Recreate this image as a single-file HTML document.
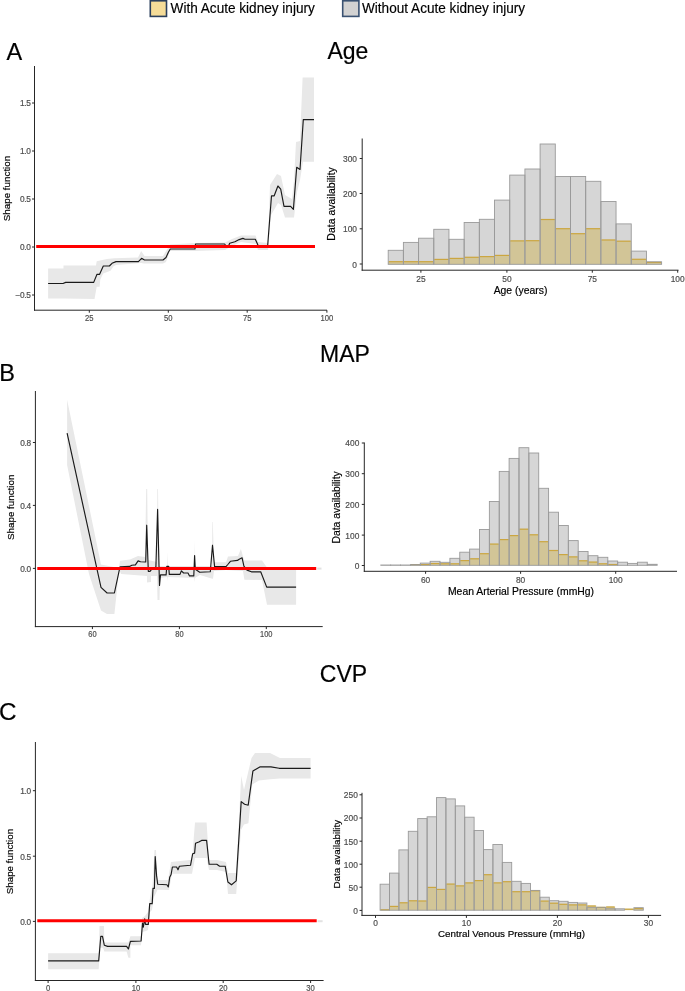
<!DOCTYPE html>
<html><head><meta charset="utf-8"><style>
html,body{margin:0;padding:0;background:#fff;}
body{width:685px;height:991px;overflow:hidden;}
svg{display:block;font-family:"Liberation Sans", sans-serif;filter:blur(0.35px);}
</style></head><body>
<svg width="685" height="991" viewBox="0 0 685 991">
<rect width="685" height="991" fill="#fff"/>
<rect x="150.3" y="0.8" width="16.2" height="15.6" fill="#f5dc98" stroke="#2b3f5c" stroke-width="1.6"/>
<text x="0" y="0" font-size="13.6" fill="#000" stroke="#000" stroke-width="0.15" transform="translate(170.6,12.7) scale(1,1.04)">With Acute kidney injury</text>
<rect x="342.7" y="0.8" width="16.2" height="15.6" fill="#d2d2d2" stroke="#3a5272" stroke-width="1.6"/>
<text x="0" y="0" font-size="13.6" fill="#000" stroke="#000" stroke-width="0.15" transform="translate(362.0,12.7) scale(1,1.04)">Without Acute kidney injury</text>
<text x="6.5" y="59.7" font-size="23.5" text-anchor="start" fill="#000" stroke="#000" stroke-width="0.18" >A</text>
<text x="-0.8" y="381.1" font-size="23.5" text-anchor="start" fill="#000" stroke="#000" stroke-width="0.18" >B</text>
<text x="-0.9" y="720.3" font-size="24.2" text-anchor="start" fill="#000" stroke="#000" stroke-width="0.18" >C</text>
<text x="327.4" y="59.4" font-size="23" text-anchor="start" fill="#000" stroke="#000" stroke-width="0.18" >Age</text>
<text x="320.0" y="362.2" font-size="23" text-anchor="start" fill="#000" stroke="#000" stroke-width="0.18" >MAP</text>
<text x="319.8" y="682.1" font-size="23" text-anchor="start" fill="#000" stroke="#000" stroke-width="0.18" >CVP</text>
<polygon points="48.1,268.6 63.5,268.6 63.5,265.5 96.0,265.5 96.7,261.2 106.9,259.0 114.2,258.2 138.0,257.5 141.2,251.0 144.5,256.0 163.0,256.0 168.0,248.0 170.0,244.5 195.0,243.0 225.0,242.5 232.0,239.0 241.0,235.5 255.5,235.5 258.0,242.0 268.0,243.0 270.0,185.0 277.0,174.0 281.0,176.0 285.0,195.0 292.0,199.0 294.0,180.0 296.0,142.0 300.0,141.0 302.6,77.5 314.0,77.5 314.0,161.8 303.0,161.8 300.0,180.0 297.0,192.0 294.0,217.6 285.0,217.6 281.0,205.0 278.0,203.0 274.0,210.0 271.0,215.0 268.0,250.0 258.0,250.0 256.0,244.0 241.0,242.0 232.0,246.0 225.0,250.0 195.0,251.0 180.0,251.0 170.0,251.0 166.0,262.0 163.0,263.5 144.0,263.5 141.0,263.0 116.0,265.0 113.5,266.3 110.5,270.7 103.2,273.6 100.3,279.4 99.6,286.7 96.7,286.7 94.5,299.0 63.5,298.4 48.1,298.4" fill="#e8e8e8"/>
<polyline points="48.1,283.5 63.0,283.5 65.7,282.4 93.7,282.4 97.0,274.3 99.6,274.3 103.3,266.0 109.4,266.0 112.0,263.3 116.0,261.6 138.4,261.6 141.6,258.3 144.5,260.0 163.0,260.0 166.0,257.5 168.5,252.0 170.3,249.0 195.0,249.0 195.5,244.0 224.6,244.0 226.5,246.5 228.3,246.5 229.7,243.2 234.9,241.8 239.2,239.6 242.9,238.4 245.0,239.2 255.3,239.2 257.5,244.0 258.4,246.5 267.6,246.5 271.5,195.8 274.2,195.8 277.9,186.0 280.7,189.2 284.0,206.3 290.6,206.3 293.4,209.3 296.7,167.3 300.0,169.5 303.3,119.6 314.0,119.6" fill="none" stroke="#1a1a1a" stroke-width="1.15" stroke-linejoin="round"/>
<line x1="36.2" y1="246.5" x2="315" y2="246.5" stroke="#ff0000" stroke-width="3"/>
<line x1="34.5" y1="66" x2="34.5" y2="310.7" stroke="#262626" stroke-width="1"/>
<line x1="34.0" y1="310.2" x2="327" y2="310.2" stroke="#262626" stroke-width="1"/>
<line x1="32.0" y1="103" x2="34.5" y2="103" stroke="#262626" stroke-width="1"/>
<text x="30.8" y="106.41" font-size="8.3" text-anchor="end" fill="#4d4d4d" stroke="#4d4d4d" stroke-width="0.18" textLength="10.73" lengthAdjust="spacing">1.5</text>
<line x1="32.0" y1="151" x2="34.5" y2="151" stroke="#262626" stroke-width="1"/>
<text x="30.8" y="154.41" font-size="8.3" text-anchor="end" fill="#4d4d4d" stroke="#4d4d4d" stroke-width="0.18" textLength="10.73" lengthAdjust="spacing">1.0</text>
<line x1="32.0" y1="199" x2="34.5" y2="199" stroke="#262626" stroke-width="1"/>
<text x="30.8" y="202.41" font-size="8.3" text-anchor="end" fill="#4d4d4d" stroke="#4d4d4d" stroke-width="0.18" textLength="10.73" lengthAdjust="spacing">0.5</text>
<line x1="32.0" y1="247" x2="34.5" y2="247" stroke="#262626" stroke-width="1"/>
<text x="30.8" y="250.41" font-size="8.3" text-anchor="end" fill="#4d4d4d" stroke="#4d4d4d" stroke-width="0.18" textLength="10.73" lengthAdjust="spacing">0.0</text>
<line x1="32.0" y1="295" x2="34.5" y2="295" stroke="#262626" stroke-width="1"/>
<text x="30.8" y="298.4" font-size="8.3" text-anchor="end" fill="#4d4d4d" stroke="#4d4d4d" stroke-width="0.18" textLength="15.24" lengthAdjust="spacing">−0.5</text>
<line x1="89.3" y1="310.2" x2="89.3" y2="312.7" stroke="#262626" stroke-width="1"/>
<text x="89.3" y="321" font-size="8.3" text-anchor="middle" fill="#4d4d4d" stroke="#4d4d4d" stroke-width="0.18" textLength="8.49" lengthAdjust="spacingAndGlyphs">25</text>
<line x1="168.3" y1="310.2" x2="168.3" y2="312.7" stroke="#262626" stroke-width="1"/>
<text x="168.3" y="321" font-size="8.3" text-anchor="middle" fill="#4d4d4d" stroke="#4d4d4d" stroke-width="0.18" textLength="8.49" lengthAdjust="spacingAndGlyphs">50</text>
<line x1="247.2" y1="310.2" x2="247.2" y2="312.7" stroke="#262626" stroke-width="1"/>
<text x="247.2" y="321" font-size="8.3" text-anchor="middle" fill="#4d4d4d" stroke="#4d4d4d" stroke-width="0.18" textLength="8.49" lengthAdjust="spacingAndGlyphs">75</text>
<line x1="326.9" y1="310.2" x2="326.9" y2="312.7" stroke="#262626" stroke-width="1"/>
<text x="326.9" y="321" font-size="8.3" text-anchor="middle" fill="#4d4d4d" stroke="#4d4d4d" stroke-width="0.18" textLength="12.74" lengthAdjust="spacingAndGlyphs">100</text>
<text x="0" y="0" font-size="9.8" text-anchor="middle" fill="#000" stroke="#000" stroke-width="0.18" transform="translate(10.0,188.5) rotate(-90)">Shape function</text>
<rect x="388.20" y="250.30" width="15.19" height="14.00" fill="#d6d6d6" stroke="none"/>
<rect x="403.39" y="242.40" width="15.19" height="21.90" fill="#d6d6d6" stroke="none"/>
<rect x="418.58" y="238.20" width="15.19" height="26.10" fill="#d6d6d6" stroke="none"/>
<rect x="433.77" y="229.30" width="15.19" height="35.00" fill="#d6d6d6" stroke="none"/>
<rect x="448.96" y="239.30" width="15.19" height="25.00" fill="#d6d6d6" stroke="none"/>
<rect x="464.15" y="222.50" width="15.19" height="41.80" fill="#d6d6d6" stroke="none"/>
<rect x="479.34" y="219.30" width="15.19" height="45.00" fill="#d6d6d6" stroke="none"/>
<rect x="494.53" y="200.10" width="15.19" height="64.20" fill="#d6d6d6" stroke="none"/>
<rect x="509.72" y="175.10" width="15.19" height="89.20" fill="#d6d6d6" stroke="none"/>
<rect x="524.91" y="169.00" width="15.19" height="95.30" fill="#d6d6d6" stroke="none"/>
<rect x="540.10" y="144.00" width="15.19" height="120.30" fill="#d6d6d6" stroke="none"/>
<rect x="555.29" y="176.50" width="15.19" height="87.80" fill="#d6d6d6" stroke="none"/>
<rect x="570.48" y="176.50" width="15.19" height="87.80" fill="#d6d6d6" stroke="none"/>
<rect x="585.67" y="181.30" width="15.19" height="83.00" fill="#d6d6d6" stroke="none"/>
<rect x="600.86" y="201.50" width="15.19" height="62.80" fill="#d6d6d6" stroke="none"/>
<rect x="616.05" y="223.90" width="15.19" height="40.40" fill="#d6d6d6" stroke="none"/>
<rect x="631.24" y="251.10" width="15.19" height="13.20" fill="#d6d6d6" stroke="none"/>
<rect x="646.43" y="261.80" width="15.19" height="2.50" fill="#d6d6d6" stroke="none"/>
<rect x="388.20" y="261.30" width="15.19" height="3.00" fill="#d2c597" stroke="none"/>
<rect x="403.39" y="261.30" width="15.19" height="3.00" fill="#d2c597" stroke="none"/>
<rect x="418.58" y="261.30" width="15.19" height="3.00" fill="#d2c597" stroke="none"/>
<rect x="433.77" y="259.00" width="15.19" height="5.30" fill="#d2c597" stroke="none"/>
<rect x="448.96" y="258.00" width="15.19" height="6.30" fill="#d2c597" stroke="none"/>
<rect x="464.15" y="256.90" width="15.19" height="7.40" fill="#d2c597" stroke="none"/>
<rect x="479.34" y="256.20" width="15.19" height="8.10" fill="#d2c597" stroke="none"/>
<rect x="494.53" y="255.00" width="15.19" height="9.30" fill="#d2c597" stroke="none"/>
<rect x="509.72" y="240.50" width="15.19" height="23.80" fill="#d2c597" stroke="none"/>
<rect x="524.91" y="240.30" width="15.19" height="24.00" fill="#d2c597" stroke="none"/>
<rect x="540.10" y="219.10" width="15.19" height="45.20" fill="#d2c597" stroke="none"/>
<rect x="555.29" y="228.30" width="15.19" height="36.00" fill="#d2c597" stroke="none"/>
<rect x="570.48" y="233.30" width="15.19" height="31.00" fill="#d2c597" stroke="none"/>
<rect x="585.67" y="228.30" width="15.19" height="36.00" fill="#d2c597" stroke="none"/>
<rect x="600.86" y="239.60" width="15.19" height="24.70" fill="#d2c597" stroke="none"/>
<rect x="616.05" y="240.80" width="15.19" height="23.50" fill="#d2c597" stroke="none"/>
<rect x="631.24" y="258.90" width="15.19" height="5.40" fill="#d2c597" stroke="none"/>
<rect x="646.43" y="262.00" width="15.19" height="2.30" fill="#d2c597" stroke="none"/>
<line x1="388.70" y1="261.70" x2="402.89" y2="261.70" stroke="#cba641" stroke-width="1.2"/>
<line x1="403.89" y1="261.70" x2="418.08" y2="261.70" stroke="#cba641" stroke-width="1.2"/>
<line x1="419.08" y1="261.70" x2="433.27" y2="261.70" stroke="#cba641" stroke-width="1.2"/>
<line x1="434.27" y1="259.40" x2="448.46" y2="259.40" stroke="#cba641" stroke-width="1.2"/>
<line x1="449.46" y1="258.40" x2="463.65" y2="258.40" stroke="#cba641" stroke-width="1.2"/>
<line x1="464.65" y1="257.30" x2="478.84" y2="257.30" stroke="#cba641" stroke-width="1.2"/>
<line x1="479.84" y1="256.60" x2="494.03" y2="256.60" stroke="#cba641" stroke-width="1.2"/>
<line x1="495.03" y1="255.40" x2="509.22" y2="255.40" stroke="#cba641" stroke-width="1.2"/>
<line x1="510.22" y1="240.90" x2="524.41" y2="240.90" stroke="#cba641" stroke-width="1.2"/>
<line x1="525.41" y1="240.70" x2="539.60" y2="240.70" stroke="#cba641" stroke-width="1.2"/>
<line x1="540.60" y1="219.50" x2="554.79" y2="219.50" stroke="#cba641" stroke-width="1.2"/>
<line x1="555.79" y1="228.70" x2="569.98" y2="228.70" stroke="#cba641" stroke-width="1.2"/>
<line x1="570.98" y1="233.70" x2="585.17" y2="233.70" stroke="#cba641" stroke-width="1.2"/>
<line x1="586.17" y1="228.70" x2="600.36" y2="228.70" stroke="#cba641" stroke-width="1.2"/>
<line x1="601.36" y1="240.00" x2="615.55" y2="240.00" stroke="#cba641" stroke-width="1.2"/>
<line x1="616.55" y1="241.20" x2="630.74" y2="241.20" stroke="#cba641" stroke-width="1.2"/>
<line x1="631.74" y1="259.30" x2="645.93" y2="259.30" stroke="#cba641" stroke-width="1.2"/>
<line x1="646.93" y1="262.40" x2="661.12" y2="262.40" stroke="#cba641" stroke-width="1.2"/>
<rect x="388.20" y="250.30" width="15.19" height="14.00" fill="none" stroke="#9a9a9a" stroke-width="0.9"/>
<rect x="403.39" y="242.40" width="15.19" height="21.90" fill="none" stroke="#9a9a9a" stroke-width="0.9"/>
<rect x="418.58" y="238.20" width="15.19" height="26.10" fill="none" stroke="#9a9a9a" stroke-width="0.9"/>
<rect x="433.77" y="229.30" width="15.19" height="35.00" fill="none" stroke="#9a9a9a" stroke-width="0.9"/>
<rect x="448.96" y="239.30" width="15.19" height="25.00" fill="none" stroke="#9a9a9a" stroke-width="0.9"/>
<rect x="464.15" y="222.50" width="15.19" height="41.80" fill="none" stroke="#9a9a9a" stroke-width="0.9"/>
<rect x="479.34" y="219.30" width="15.19" height="45.00" fill="none" stroke="#9a9a9a" stroke-width="0.9"/>
<rect x="494.53" y="200.10" width="15.19" height="64.20" fill="none" stroke="#9a9a9a" stroke-width="0.9"/>
<rect x="509.72" y="175.10" width="15.19" height="89.20" fill="none" stroke="#9a9a9a" stroke-width="0.9"/>
<rect x="524.91" y="169.00" width="15.19" height="95.30" fill="none" stroke="#9a9a9a" stroke-width="0.9"/>
<rect x="540.10" y="144.00" width="15.19" height="120.30" fill="none" stroke="#9a9a9a" stroke-width="0.9"/>
<rect x="555.29" y="176.50" width="15.19" height="87.80" fill="none" stroke="#9a9a9a" stroke-width="0.9"/>
<rect x="570.48" y="176.50" width="15.19" height="87.80" fill="none" stroke="#9a9a9a" stroke-width="0.9"/>
<rect x="585.67" y="181.30" width="15.19" height="83.00" fill="none" stroke="#9a9a9a" stroke-width="0.9"/>
<rect x="600.86" y="201.50" width="15.19" height="62.80" fill="none" stroke="#9a9a9a" stroke-width="0.9"/>
<rect x="616.05" y="223.90" width="15.19" height="40.40" fill="none" stroke="#9a9a9a" stroke-width="0.9"/>
<rect x="631.24" y="251.10" width="15.19" height="13.20" fill="none" stroke="#9a9a9a" stroke-width="0.9"/>
<rect x="646.43" y="261.80" width="15.19" height="2.50" fill="none" stroke="#9a9a9a" stroke-width="0.9"/>
<line x1="362.2" y1="138.5" x2="362.2" y2="270.7" stroke="#262626" stroke-width="1"/>
<line x1="361.7" y1="270.2" x2="678.5" y2="270.2" stroke="#262626" stroke-width="1"/>
<line x1="359.7" y1="158.5" x2="362.2" y2="158.5" stroke="#262626" stroke-width="1"/>
<text x="357.0" y="162.14" font-size="8.4" text-anchor="end" fill="#4d4d4d" stroke="#4d4d4d" stroke-width="0.18" >300</text>
<line x1="359.7" y1="193.5" x2="362.2" y2="193.5" stroke="#262626" stroke-width="1"/>
<text x="357.0" y="197.14" font-size="8.4" text-anchor="end" fill="#4d4d4d" stroke="#4d4d4d" stroke-width="0.18" >200</text>
<line x1="359.7" y1="228.8" x2="362.2" y2="228.8" stroke="#262626" stroke-width="1"/>
<text x="357.0" y="232.44" font-size="8.4" text-anchor="end" fill="#4d4d4d" stroke="#4d4d4d" stroke-width="0.18" >100</text>
<line x1="359.7" y1="264" x2="362.2" y2="264" stroke="#262626" stroke-width="1"/>
<text x="357.0" y="267.64" font-size="8.4" text-anchor="end" fill="#4d4d4d" stroke="#4d4d4d" stroke-width="0.18" >0</text>
<line x1="420.9" y1="270.2" x2="420.9" y2="272.7" stroke="#262626" stroke-width="1"/>
<text x="420.9" y="281.8" font-size="8.4" text-anchor="middle" fill="#4d4d4d" stroke="#4d4d4d" stroke-width="0.18" >25</text>
<line x1="506.9" y1="270.2" x2="506.9" y2="272.7" stroke="#262626" stroke-width="1"/>
<text x="506.9" y="281.8" font-size="8.4" text-anchor="middle" fill="#4d4d4d" stroke="#4d4d4d" stroke-width="0.18" >50</text>
<line x1="592.3" y1="270.2" x2="592.3" y2="272.7" stroke="#262626" stroke-width="1"/>
<text x="592.3" y="281.8" font-size="8.4" text-anchor="middle" fill="#4d4d4d" stroke="#4d4d4d" stroke-width="0.18" >75</text>
<line x1="677.7" y1="270.2" x2="677.7" y2="272.7" stroke="#262626" stroke-width="1"/>
<text x="677.7" y="281.8" font-size="8.4" text-anchor="middle" fill="#4d4d4d" stroke="#4d4d4d" stroke-width="0.18" >100</text>
<text x="520.5" y="293.8" font-size="10.4" text-anchor="middle" fill="#000" stroke="#000" stroke-width="0.18" >Age (years)</text>
<text x="0" y="0" font-size="10.5" text-anchor="middle" fill="#000" stroke="#000" stroke-width="0.18" transform="translate(335.3,203.9) rotate(-90)">Data availability</text>
<polygon points="67.1,399.7 101.0,564.4 119.0,568.0 120.0,560.7 130.0,559.5 138.0,556.0 145.0,557.0 146.2,489.0 147.2,489.0 148.0,560.0 157.0,562.0 157.3,489.0 158.0,489.0 159.0,566.0 167.0,566.0 167.4,552.0 167.8,566.0 194.0,566.0 194.3,540.0 194.8,566.0 212.0,566.0 212.3,522.0 212.8,522.0 214.0,562.2 226.0,562.2 228.0,556.4 238.0,556.0 240.9,549.0 243.0,556.4 244.4,560.4 262.0,560.4 267.0,567.4 296.1,567.4 296.1,604.8 267.0,604.8 262.0,580.0 244.4,579.7 243.0,571.0 226.0,570.0 214.0,571.0 213.0,578.8 212.3,578.8 200.0,575.0 194.8,578.0 194.3,582.0 194.0,578.0 167.8,577.0 167.4,581.0 167.0,577.0 160.0,578.0 159.5,600.0 157.5,600.0 157.0,576.0 151.0,576.0 151.0,582.0 147.0,582.4 147.0,576.0 121.0,574.0 119.2,569.2 114.4,614.0 107.0,614.0 101.0,610.4 89.0,574.0 67.1,465.0" fill="#e8e8e8"/>
<polyline points="67.1,433.1 101.0,587.4 107.1,593.0 114.4,593.0 120.0,566.8 129.6,566.4 131.8,565.2 135.4,564.9 138.1,560.9 140.5,561.7 145.7,562.0 146.7,525.2 148.3,571.3 150.0,571.3 151.2,569.8 155.9,567.1 157.6,509.4 159.5,585.4 160.5,574.9 166.1,574.9 166.8,566.4 168.7,566.4 169.3,574.4 180.0,574.4 181.4,570.8 183.6,573.0 188.0,573.0 189.5,575.9 193.8,575.9 194.6,555.5 195.3,569.3 197.5,570.8 199.7,572.3 210.3,571.8 212.5,545.2 214.6,566.6 226.0,566.6 227.8,564.5 230.4,561.3 237.4,560.4 239.2,559.2 242.1,557.8 243.9,566.2 247.0,570.1 251.4,571.8 260.7,571.8 266.7,587.1 296.1,587.1" fill="none" stroke="#1a1a1a" stroke-width="1.15" stroke-linejoin="round"/>
<line x1="37.3" y1="568.4" x2="316.2" y2="568.4" stroke="#ff0000" stroke-width="3"/>
<line x1="317.2" y1="568.6" x2="321.5" y2="568.6" stroke="#e2e2e2" stroke-width="2"/>
<line x1="35.4" y1="391" x2="35.4" y2="627.1" stroke="#262626" stroke-width="1"/>
<line x1="34.9" y1="626.6" x2="322.7" y2="626.6" stroke="#262626" stroke-width="1"/>
<line x1="32.9" y1="442.5" x2="35.4" y2="442.5" stroke="#262626" stroke-width="1"/>
<text x="31.1" y="445.9" font-size="8.3" text-anchor="end" fill="#4d4d4d" stroke="#4d4d4d" stroke-width="0.18" textLength="10.73" lengthAdjust="spacing">0.8</text>
<line x1="32.9" y1="505.4" x2="35.4" y2="505.4" stroke="#262626" stroke-width="1"/>
<text x="31.1" y="508.8" font-size="8.3" text-anchor="end" fill="#4d4d4d" stroke="#4d4d4d" stroke-width="0.18" textLength="10.73" lengthAdjust="spacing">0.4</text>
<line x1="32.9" y1="568.4" x2="35.4" y2="568.4" stroke="#262626" stroke-width="1"/>
<text x="31.1" y="571.8" font-size="8.3" text-anchor="end" fill="#4d4d4d" stroke="#4d4d4d" stroke-width="0.18" textLength="10.73" lengthAdjust="spacing">0.0</text>
<line x1="92.4" y1="626.6" x2="92.4" y2="629.1" stroke="#262626" stroke-width="1"/>
<text x="92.4" y="637" font-size="8.3" text-anchor="middle" fill="#4d4d4d" stroke="#4d4d4d" stroke-width="0.18" textLength="8.31" lengthAdjust="spacingAndGlyphs">60</text>
<line x1="179.4" y1="626.6" x2="179.4" y2="629.1" stroke="#262626" stroke-width="1"/>
<text x="179.4" y="637" font-size="8.3" text-anchor="middle" fill="#4d4d4d" stroke="#4d4d4d" stroke-width="0.18" textLength="8.31" lengthAdjust="spacingAndGlyphs">80</text>
<line x1="266.3" y1="626.6" x2="266.3" y2="629.1" stroke="#262626" stroke-width="1"/>
<text x="266.3" y="637" font-size="8.3" text-anchor="middle" fill="#4d4d4d" stroke="#4d4d4d" stroke-width="0.18" textLength="12.46" lengthAdjust="spacingAndGlyphs">100</text>
<text x="0" y="0" font-size="9.8" text-anchor="middle" fill="#000" stroke="#000" stroke-width="0.18" transform="translate(14.0,507.3) rotate(-90)">Shape function</text>
<rect x="380.80" y="565.00" width="9.87" height="0.30" fill="#d6d6d6" stroke="none"/>
<rect x="390.67" y="565.00" width="9.87" height="0.30" fill="#d6d6d6" stroke="none"/>
<rect x="400.54" y="565.00" width="9.87" height="0.30" fill="#d6d6d6" stroke="none"/>
<rect x="410.41" y="564.60" width="9.87" height="0.70" fill="#d6d6d6" stroke="none"/>
<rect x="420.28" y="563.10" width="9.87" height="2.20" fill="#d6d6d6" stroke="none"/>
<rect x="430.15" y="561.30" width="9.87" height="4.00" fill="#d6d6d6" stroke="none"/>
<rect x="440.02" y="562.30" width="9.87" height="3.00" fill="#d6d6d6" stroke="none"/>
<rect x="449.89" y="558.30" width="9.87" height="7.00" fill="#d6d6d6" stroke="none"/>
<rect x="459.76" y="552.20" width="9.87" height="13.10" fill="#d6d6d6" stroke="none"/>
<rect x="469.63" y="549.10" width="9.87" height="16.20" fill="#d6d6d6" stroke="none"/>
<rect x="479.50" y="529.50" width="9.87" height="35.80" fill="#d6d6d6" stroke="none"/>
<rect x="489.37" y="501.50" width="9.87" height="63.80" fill="#d6d6d6" stroke="none"/>
<rect x="499.24" y="471.40" width="9.87" height="93.90" fill="#d6d6d6" stroke="none"/>
<rect x="509.11" y="458.40" width="9.87" height="106.90" fill="#d6d6d6" stroke="none"/>
<rect x="518.98" y="447.70" width="9.87" height="117.60" fill="#d6d6d6" stroke="none"/>
<rect x="528.85" y="453.00" width="9.87" height="112.30" fill="#d6d6d6" stroke="none"/>
<rect x="538.72" y="488.30" width="9.87" height="77.00" fill="#d6d6d6" stroke="none"/>
<rect x="548.59" y="512.20" width="9.87" height="53.10" fill="#d6d6d6" stroke="none"/>
<rect x="558.46" y="525.50" width="9.87" height="39.80" fill="#d6d6d6" stroke="none"/>
<rect x="568.33" y="540.60" width="9.87" height="24.70" fill="#d6d6d6" stroke="none"/>
<rect x="578.20" y="551.50" width="9.87" height="13.80" fill="#d6d6d6" stroke="none"/>
<rect x="588.07" y="555.70" width="9.87" height="9.60" fill="#d6d6d6" stroke="none"/>
<rect x="597.94" y="557.30" width="9.87" height="8.00" fill="#d6d6d6" stroke="none"/>
<rect x="607.81" y="561.00" width="9.87" height="4.30" fill="#d6d6d6" stroke="none"/>
<rect x="617.68" y="562.20" width="9.87" height="3.10" fill="#d6d6d6" stroke="none"/>
<rect x="627.55" y="563.40" width="9.87" height="1.90" fill="#d6d6d6" stroke="none"/>
<rect x="637.42" y="562.20" width="9.87" height="3.10" fill="#d6d6d6" stroke="none"/>
<rect x="647.29" y="564.30" width="9.87" height="1.00" fill="#d6d6d6" stroke="none"/>
<rect x="410.41" y="564.20" width="9.87" height="1.10" fill="#d2c597" stroke="none"/>
<rect x="420.28" y="564.20" width="9.87" height="1.10" fill="#d2c597" stroke="none"/>
<rect x="430.15" y="563.10" width="9.87" height="2.20" fill="#d2c597" stroke="none"/>
<rect x="440.02" y="563.40" width="9.87" height="1.90" fill="#d2c597" stroke="none"/>
<rect x="449.89" y="563.40" width="9.87" height="1.90" fill="#d2c597" stroke="none"/>
<rect x="459.76" y="560.20" width="9.87" height="5.10" fill="#d2c597" stroke="none"/>
<rect x="469.63" y="558.40" width="9.87" height="6.90" fill="#d2c597" stroke="none"/>
<rect x="479.50" y="553.30" width="9.87" height="12.00" fill="#d2c597" stroke="none"/>
<rect x="489.37" y="543.70" width="9.87" height="21.60" fill="#d2c597" stroke="none"/>
<rect x="499.24" y="539.20" width="9.87" height="26.10" fill="#d2c597" stroke="none"/>
<rect x="509.11" y="535.20" width="9.87" height="30.10" fill="#d2c597" stroke="none"/>
<rect x="518.98" y="528.80" width="9.87" height="36.50" fill="#d2c597" stroke="none"/>
<rect x="528.85" y="534.40" width="9.87" height="30.90" fill="#d2c597" stroke="none"/>
<rect x="538.72" y="541.30" width="9.87" height="24.00" fill="#d2c597" stroke="none"/>
<rect x="548.59" y="550.10" width="9.87" height="15.20" fill="#d2c597" stroke="none"/>
<rect x="558.46" y="554.20" width="9.87" height="11.10" fill="#d2c597" stroke="none"/>
<rect x="568.33" y="556.50" width="9.87" height="8.80" fill="#d2c597" stroke="none"/>
<rect x="578.20" y="560.40" width="9.87" height="4.90" fill="#d2c597" stroke="none"/>
<rect x="588.07" y="561.70" width="9.87" height="3.60" fill="#d2c597" stroke="none"/>
<rect x="597.94" y="563.40" width="9.87" height="1.90" fill="#d2c597" stroke="none"/>
<rect x="607.81" y="564.10" width="9.87" height="1.20" fill="#d2c597" stroke="none"/>
<line x1="410.91" y1="564.60" x2="419.78" y2="564.60" stroke="#cba641" stroke-width="1.2"/>
<line x1="420.78" y1="564.60" x2="429.65" y2="564.60" stroke="#cba641" stroke-width="1.2"/>
<line x1="430.65" y1="563.50" x2="439.52" y2="563.50" stroke="#cba641" stroke-width="1.2"/>
<line x1="440.52" y1="563.80" x2="449.39" y2="563.80" stroke="#cba641" stroke-width="1.2"/>
<line x1="450.39" y1="563.80" x2="459.26" y2="563.80" stroke="#cba641" stroke-width="1.2"/>
<line x1="460.26" y1="560.60" x2="469.13" y2="560.60" stroke="#cba641" stroke-width="1.2"/>
<line x1="470.13" y1="558.80" x2="479.00" y2="558.80" stroke="#cba641" stroke-width="1.2"/>
<line x1="480.00" y1="553.70" x2="488.87" y2="553.70" stroke="#cba641" stroke-width="1.2"/>
<line x1="489.87" y1="544.10" x2="498.74" y2="544.10" stroke="#cba641" stroke-width="1.2"/>
<line x1="499.74" y1="539.60" x2="508.61" y2="539.60" stroke="#cba641" stroke-width="1.2"/>
<line x1="509.61" y1="535.60" x2="518.48" y2="535.60" stroke="#cba641" stroke-width="1.2"/>
<line x1="519.48" y1="529.20" x2="528.35" y2="529.20" stroke="#cba641" stroke-width="1.2"/>
<line x1="529.35" y1="534.80" x2="538.22" y2="534.80" stroke="#cba641" stroke-width="1.2"/>
<line x1="539.22" y1="541.70" x2="548.09" y2="541.70" stroke="#cba641" stroke-width="1.2"/>
<line x1="549.09" y1="550.50" x2="557.96" y2="550.50" stroke="#cba641" stroke-width="1.2"/>
<line x1="558.96" y1="554.60" x2="567.83" y2="554.60" stroke="#cba641" stroke-width="1.2"/>
<line x1="568.83" y1="556.90" x2="577.70" y2="556.90" stroke="#cba641" stroke-width="1.2"/>
<line x1="578.70" y1="560.80" x2="587.57" y2="560.80" stroke="#cba641" stroke-width="1.2"/>
<line x1="588.57" y1="562.10" x2="597.44" y2="562.10" stroke="#cba641" stroke-width="1.2"/>
<line x1="598.44" y1="563.80" x2="607.31" y2="563.80" stroke="#cba641" stroke-width="1.2"/>
<line x1="608.31" y1="564.50" x2="617.18" y2="564.50" stroke="#cba641" stroke-width="1.2"/>
<rect x="380.80" y="565.00" width="9.87" height="0.30" fill="none" stroke="#9a9a9a" stroke-width="0.9"/>
<rect x="390.67" y="565.00" width="9.87" height="0.30" fill="none" stroke="#9a9a9a" stroke-width="0.9"/>
<rect x="400.54" y="565.00" width="9.87" height="0.30" fill="none" stroke="#9a9a9a" stroke-width="0.9"/>
<rect x="410.41" y="564.60" width="9.87" height="0.70" fill="none" stroke="#9a9a9a" stroke-width="0.9"/>
<rect x="420.28" y="563.10" width="9.87" height="2.20" fill="none" stroke="#9a9a9a" stroke-width="0.9"/>
<rect x="430.15" y="561.30" width="9.87" height="4.00" fill="none" stroke="#9a9a9a" stroke-width="0.9"/>
<rect x="440.02" y="562.30" width="9.87" height="3.00" fill="none" stroke="#9a9a9a" stroke-width="0.9"/>
<rect x="449.89" y="558.30" width="9.87" height="7.00" fill="none" stroke="#9a9a9a" stroke-width="0.9"/>
<rect x="459.76" y="552.20" width="9.87" height="13.10" fill="none" stroke="#9a9a9a" stroke-width="0.9"/>
<rect x="469.63" y="549.10" width="9.87" height="16.20" fill="none" stroke="#9a9a9a" stroke-width="0.9"/>
<rect x="479.50" y="529.50" width="9.87" height="35.80" fill="none" stroke="#9a9a9a" stroke-width="0.9"/>
<rect x="489.37" y="501.50" width="9.87" height="63.80" fill="none" stroke="#9a9a9a" stroke-width="0.9"/>
<rect x="499.24" y="471.40" width="9.87" height="93.90" fill="none" stroke="#9a9a9a" stroke-width="0.9"/>
<rect x="509.11" y="458.40" width="9.87" height="106.90" fill="none" stroke="#9a9a9a" stroke-width="0.9"/>
<rect x="518.98" y="447.70" width="9.87" height="117.60" fill="none" stroke="#9a9a9a" stroke-width="0.9"/>
<rect x="528.85" y="453.00" width="9.87" height="112.30" fill="none" stroke="#9a9a9a" stroke-width="0.9"/>
<rect x="538.72" y="488.30" width="9.87" height="77.00" fill="none" stroke="#9a9a9a" stroke-width="0.9"/>
<rect x="548.59" y="512.20" width="9.87" height="53.10" fill="none" stroke="#9a9a9a" stroke-width="0.9"/>
<rect x="558.46" y="525.50" width="9.87" height="39.80" fill="none" stroke="#9a9a9a" stroke-width="0.9"/>
<rect x="568.33" y="540.60" width="9.87" height="24.70" fill="none" stroke="#9a9a9a" stroke-width="0.9"/>
<rect x="578.20" y="551.50" width="9.87" height="13.80" fill="none" stroke="#9a9a9a" stroke-width="0.9"/>
<rect x="588.07" y="555.70" width="9.87" height="9.60" fill="none" stroke="#9a9a9a" stroke-width="0.9"/>
<rect x="597.94" y="557.30" width="9.87" height="8.00" fill="none" stroke="#9a9a9a" stroke-width="0.9"/>
<rect x="607.81" y="561.00" width="9.87" height="4.30" fill="none" stroke="#9a9a9a" stroke-width="0.9"/>
<rect x="617.68" y="562.20" width="9.87" height="3.10" fill="none" stroke="#9a9a9a" stroke-width="0.9"/>
<rect x="627.55" y="563.40" width="9.87" height="1.90" fill="none" stroke="#9a9a9a" stroke-width="0.9"/>
<rect x="637.42" y="562.20" width="9.87" height="3.10" fill="none" stroke="#9a9a9a" stroke-width="0.9"/>
<rect x="647.29" y="564.30" width="9.87" height="1.00" fill="none" stroke="#9a9a9a" stroke-width="0.9"/>
<line x1="364.3" y1="442.5" x2="364.3" y2="571.8" stroke="#262626" stroke-width="1"/>
<line x1="363.8" y1="571.3" x2="677" y2="571.3" stroke="#262626" stroke-width="1"/>
<line x1="361.8" y1="443" x2="364.3" y2="443" stroke="#262626" stroke-width="1"/>
<text x="359.3" y="446.44" font-size="8.4" text-anchor="end" fill="#4d4d4d" stroke="#4d4d4d" stroke-width="0.18" >400</text>
<line x1="361.8" y1="473.7" x2="364.3" y2="473.7" stroke="#262626" stroke-width="1"/>
<text x="359.3" y="477.14" font-size="8.4" text-anchor="end" fill="#4d4d4d" stroke="#4d4d4d" stroke-width="0.18" >300</text>
<line x1="361.8" y1="504.4" x2="364.3" y2="504.4" stroke="#262626" stroke-width="1"/>
<text x="359.3" y="507.84" font-size="8.4" text-anchor="end" fill="#4d4d4d" stroke="#4d4d4d" stroke-width="0.18" >200</text>
<line x1="361.8" y1="535.1" x2="364.3" y2="535.1" stroke="#262626" stroke-width="1"/>
<text x="359.3" y="538.54" font-size="8.4" text-anchor="end" fill="#4d4d4d" stroke="#4d4d4d" stroke-width="0.18" >100</text>
<line x1="361.8" y1="565.5" x2="364.3" y2="565.5" stroke="#262626" stroke-width="1"/>
<text x="359.3" y="568.94" font-size="8.4" text-anchor="end" fill="#4d4d4d" stroke="#4d4d4d" stroke-width="0.18" >0</text>
<line x1="425.6" y1="571.3" x2="425.6" y2="573.8" stroke="#262626" stroke-width="1"/>
<text x="425.6" y="582.7" font-size="8.4" text-anchor="middle" fill="#4d4d4d" stroke="#4d4d4d" stroke-width="0.18" >60</text>
<line x1="520.6" y1="571.3" x2="520.6" y2="573.8" stroke="#262626" stroke-width="1"/>
<text x="520.6" y="582.7" font-size="8.4" text-anchor="middle" fill="#4d4d4d" stroke="#4d4d4d" stroke-width="0.18" >80</text>
<line x1="615.7" y1="571.3" x2="615.7" y2="573.8" stroke="#262626" stroke-width="1"/>
<text x="615.7" y="582.7" font-size="8.4" text-anchor="middle" fill="#4d4d4d" stroke="#4d4d4d" stroke-width="0.18" >100</text>
<text x="521" y="594.5" font-size="10.4" text-anchor="middle" fill="#000" stroke="#000" stroke-width="0.18" >Mean Arterial Pressure (mmHg)</text>
<text x="0" y="0" font-size="10.3" text-anchor="middle" fill="#000" stroke="#000" stroke-width="0.18" transform="translate(340.4,507.4) rotate(-90)">Data availability</text>
<polygon points="48.1,953.3 98.7,953.3 99.5,926.0 104.0,926.0 104.3,942.6 128.4,942.6 130.4,936.3 141.0,936.3 142.0,918.0 145.0,916.0 148.0,912.0 150.0,898.0 152.5,885.0 154.5,850.0 156.0,850.0 157.5,880.0 168.0,880.0 171.0,862.0 192.0,859.8 195.0,822.6 206.6,822.6 209.0,860.0 217.0,860.0 226.0,862.0 228.0,873.0 236.2,873.0 241.2,776.0 244.0,790.0 251.5,758.0 255.0,753.0 270.0,753.0 280.0,758.0 310.6,758.0 310.6,778.6 280.0,778.6 270.0,779.3 258.9,780.5 252.3,784.4 248.4,823.2 244.0,824.6 241.0,830.0 236.2,893.9 228.0,893.9 226.0,872.0 217.0,870.0 209.0,870.0 206.6,857.9 195.0,857.9 192.0,873.7 172.0,873.7 169.0,890.0 157.5,889.7 156.0,893.0 154.0,897.0 152.0,910.0 150.0,912.0 148.0,930.0 146.0,931.0 142.3,932.0 141.0,945.2 130.4,945.2 130.4,957.8 128.4,957.8 126.6,951.5 104.3,951.5 103.0,947.7 100.0,947.7 98.7,969.2 48.1,969.2" fill="#e8e8e8"/>
<polyline points="48.1,960.9 98.7,960.9 100.8,936.3 102.5,936.3 104.3,945.2 107.6,946.4 126.6,946.4 128.4,949.0 130.4,941.4 141.1,941.0 142.5,923.0 143.3,927.2 144.7,918.9 145.5,924.4 148.3,924.4 149.7,903.6 152.2,903.6 153.0,888.4 154.4,888.4 155.2,856.5 156.6,875.9 157.7,884.2 166.9,884.8 168.3,887.0 169.7,877.3 171.1,874.5 172.4,867.0 176.6,867.0 178.0,869.8 179.4,866.2 190.5,865.3 192.7,853.7 194.6,853.1 195.5,843.2 198.8,842.0 201.6,840.4 206.6,840.4 209.1,864.2 216.8,864.2 219.6,866.2 225.2,866.2 227.9,882.0 231.5,884.8 236.2,880.9 241.2,801.6 244.6,804.3 248.2,805.2 252.9,771.1 259.8,766.9 270.9,766.9 279.2,768.3 310.6,768.3" fill="none" stroke="#1a1a1a" stroke-width="1.15" stroke-linejoin="round"/>
<line x1="37.3" y1="920.8" x2="316.7" y2="920.8" stroke="#ff0000" stroke-width="3"/>
<line x1="317.6" y1="921.2" x2="322.6" y2="921.2" stroke="#e2e2e2" stroke-width="2"/>
<line x1="35.4" y1="742" x2="35.4" y2="981.0" stroke="#262626" stroke-width="1"/>
<line x1="34.9" y1="980.5" x2="323.6" y2="980.5" stroke="#262626" stroke-width="1"/>
<line x1="32.9" y1="790.7" x2="35.4" y2="790.7" stroke="#262626" stroke-width="1"/>
<text x="31.1" y="794.11" font-size="8.3" text-anchor="end" fill="#4d4d4d" stroke="#4d4d4d" stroke-width="0.18" textLength="10.73" lengthAdjust="spacing">1.0</text>
<line x1="32.9" y1="856.2" x2="35.4" y2="856.2" stroke="#262626" stroke-width="1"/>
<text x="31.1" y="859.61" font-size="8.3" text-anchor="end" fill="#4d4d4d" stroke="#4d4d4d" stroke-width="0.18" textLength="10.73" lengthAdjust="spacing">0.5</text>
<line x1="32.9" y1="921.4" x2="35.4" y2="921.4" stroke="#262626" stroke-width="1"/>
<text x="31.1" y="924.8" font-size="8.3" text-anchor="end" fill="#4d4d4d" stroke="#4d4d4d" stroke-width="0.18" textLength="10.73" lengthAdjust="spacing">0.0</text>
<line x1="48.1" y1="980.5" x2="48.1" y2="983.0" stroke="#262626" stroke-width="1"/>
<text x="48.1" y="991" font-size="8.3" text-anchor="middle" fill="#4d4d4d" stroke="#4d4d4d" stroke-width="0.18" textLength="4.25" lengthAdjust="spacingAndGlyphs">0</text>
<line x1="135.9" y1="980.5" x2="135.9" y2="983.0" stroke="#262626" stroke-width="1"/>
<text x="135.9" y="991" font-size="8.3" text-anchor="middle" fill="#4d4d4d" stroke="#4d4d4d" stroke-width="0.18" textLength="8.49" lengthAdjust="spacingAndGlyphs">10</text>
<line x1="223.2" y1="980.5" x2="223.2" y2="983.0" stroke="#262626" stroke-width="1"/>
<text x="223.2" y="991" font-size="8.3" text-anchor="middle" fill="#4d4d4d" stroke="#4d4d4d" stroke-width="0.18" textLength="8.49" lengthAdjust="spacingAndGlyphs">20</text>
<line x1="310.6" y1="980.5" x2="310.6" y2="983.0" stroke="#262626" stroke-width="1"/>
<text x="310.6" y="991" font-size="8.3" text-anchor="middle" fill="#4d4d4d" stroke="#4d4d4d" stroke-width="0.18" textLength="8.49" lengthAdjust="spacingAndGlyphs">30</text>
<text x="0" y="0" font-size="9.8" text-anchor="middle" fill="#000" stroke="#000" stroke-width="0.18" transform="translate(12.8,861.6) rotate(-90)">Shape function</text>
<rect x="380.10" y="884.20" width="9.40" height="26.00" fill="#d6d6d6" stroke="none"/>
<rect x="389.50" y="873.10" width="9.40" height="37.10" fill="#d6d6d6" stroke="none"/>
<rect x="398.90" y="849.90" width="9.40" height="60.30" fill="#d6d6d6" stroke="none"/>
<rect x="408.30" y="831.30" width="9.40" height="78.90" fill="#d6d6d6" stroke="none"/>
<rect x="417.70" y="818.60" width="9.40" height="91.60" fill="#d6d6d6" stroke="none"/>
<rect x="427.10" y="816.80" width="9.40" height="93.40" fill="#d6d6d6" stroke="none"/>
<rect x="436.50" y="797.60" width="9.40" height="112.60" fill="#d6d6d6" stroke="none"/>
<rect x="445.90" y="798.90" width="9.40" height="111.30" fill="#d6d6d6" stroke="none"/>
<rect x="455.30" y="805.90" width="9.40" height="104.30" fill="#d6d6d6" stroke="none"/>
<rect x="464.70" y="817.20" width="9.40" height="93.00" fill="#d6d6d6" stroke="none"/>
<rect x="474.10" y="830.50" width="9.40" height="79.70" fill="#d6d6d6" stroke="none"/>
<rect x="483.50" y="849.60" width="9.40" height="60.60" fill="#d6d6d6" stroke="none"/>
<rect x="492.90" y="844.50" width="9.40" height="65.70" fill="#d6d6d6" stroke="none"/>
<rect x="502.30" y="862.40" width="9.40" height="47.80" fill="#d6d6d6" stroke="none"/>
<rect x="511.70" y="881.30" width="9.40" height="28.90" fill="#d6d6d6" stroke="none"/>
<rect x="521.10" y="883.40" width="9.40" height="26.80" fill="#d6d6d6" stroke="none"/>
<rect x="530.50" y="890.40" width="9.40" height="19.80" fill="#d6d6d6" stroke="none"/>
<rect x="539.90" y="897.20" width="9.40" height="13.00" fill="#d6d6d6" stroke="none"/>
<rect x="549.30" y="900.70" width="9.40" height="9.50" fill="#d6d6d6" stroke="none"/>
<rect x="558.70" y="901.30" width="9.40" height="8.90" fill="#d6d6d6" stroke="none"/>
<rect x="568.10" y="902.40" width="9.40" height="7.80" fill="#d6d6d6" stroke="none"/>
<rect x="577.50" y="903.00" width="9.40" height="7.20" fill="#d6d6d6" stroke="none"/>
<rect x="586.90" y="907.70" width="9.40" height="2.50" fill="#d6d6d6" stroke="none"/>
<rect x="596.30" y="907.30" width="9.40" height="2.90" fill="#d6d6d6" stroke="none"/>
<rect x="605.70" y="908.80" width="9.40" height="1.40" fill="#d6d6d6" stroke="none"/>
<rect x="615.10" y="908.80" width="9.40" height="1.40" fill="#d6d6d6" stroke="none"/>
<rect x="624.50" y="910.20" width="9.40" height="0.00" fill="#d6d6d6" stroke="none"/>
<rect x="633.90" y="907.70" width="9.40" height="2.50" fill="#d6d6d6" stroke="none"/>
<rect x="380.10" y="909.40" width="9.40" height="0.80" fill="#d2c597" stroke="none"/>
<rect x="389.50" y="906.00" width="9.40" height="4.20" fill="#d2c597" stroke="none"/>
<rect x="398.90" y="902.40" width="9.40" height="7.80" fill="#d2c597" stroke="none"/>
<rect x="408.30" y="900.40" width="9.40" height="9.80" fill="#d2c597" stroke="none"/>
<rect x="417.70" y="900.60" width="9.40" height="9.60" fill="#d2c597" stroke="none"/>
<rect x="427.10" y="887.00" width="9.40" height="23.20" fill="#d2c597" stroke="none"/>
<rect x="436.50" y="889.00" width="9.40" height="21.20" fill="#d2c597" stroke="none"/>
<rect x="445.90" y="883.70" width="9.40" height="26.50" fill="#d2c597" stroke="none"/>
<rect x="455.30" y="885.50" width="9.40" height="24.70" fill="#d2c597" stroke="none"/>
<rect x="464.70" y="882.50" width="9.40" height="27.70" fill="#d2c597" stroke="none"/>
<rect x="474.10" y="880.20" width="9.40" height="30.00" fill="#d2c597" stroke="none"/>
<rect x="483.50" y="874.30" width="9.40" height="35.90" fill="#d2c597" stroke="none"/>
<rect x="492.90" y="882.50" width="9.40" height="27.70" fill="#d2c597" stroke="none"/>
<rect x="502.30" y="881.30" width="9.40" height="28.90" fill="#d2c597" stroke="none"/>
<rect x="511.70" y="891.30" width="9.40" height="18.90" fill="#d2c597" stroke="none"/>
<rect x="521.10" y="891.30" width="9.40" height="18.90" fill="#d2c597" stroke="none"/>
<rect x="530.50" y="890.40" width="9.40" height="19.80" fill="#d2c597" stroke="none"/>
<rect x="539.90" y="900.70" width="9.40" height="9.50" fill="#d2c597" stroke="none"/>
<rect x="549.30" y="902.80" width="9.40" height="7.40" fill="#d2c597" stroke="none"/>
<rect x="558.70" y="903.90" width="9.40" height="6.30" fill="#d2c597" stroke="none"/>
<rect x="568.10" y="904.50" width="9.40" height="5.70" fill="#d2c597" stroke="none"/>
<rect x="577.50" y="904.50" width="9.40" height="5.70" fill="#d2c597" stroke="none"/>
<rect x="586.90" y="905.60" width="9.40" height="4.60" fill="#d2c597" stroke="none"/>
<rect x="596.30" y="907.00" width="9.40" height="3.20" fill="#d2c597" stroke="none"/>
<rect x="605.70" y="906.60" width="9.40" height="3.60" fill="#d2c597" stroke="none"/>
<rect x="624.50" y="908.80" width="9.40" height="1.40" fill="#d2c597" stroke="none"/>
<rect x="633.90" y="908.10" width="9.40" height="2.10" fill="#d2c597" stroke="none"/>
<line x1="380.60" y1="909.80" x2="389.00" y2="909.80" stroke="#cba641" stroke-width="1.2"/>
<line x1="390.00" y1="906.40" x2="398.40" y2="906.40" stroke="#cba641" stroke-width="1.2"/>
<line x1="399.40" y1="902.80" x2="407.80" y2="902.80" stroke="#cba641" stroke-width="1.2"/>
<line x1="408.80" y1="900.80" x2="417.20" y2="900.80" stroke="#cba641" stroke-width="1.2"/>
<line x1="418.20" y1="901.00" x2="426.60" y2="901.00" stroke="#cba641" stroke-width="1.2"/>
<line x1="427.60" y1="887.40" x2="436.00" y2="887.40" stroke="#cba641" stroke-width="1.2"/>
<line x1="437.00" y1="889.40" x2="445.40" y2="889.40" stroke="#cba641" stroke-width="1.2"/>
<line x1="446.40" y1="884.10" x2="454.80" y2="884.10" stroke="#cba641" stroke-width="1.2"/>
<line x1="455.80" y1="885.90" x2="464.20" y2="885.90" stroke="#cba641" stroke-width="1.2"/>
<line x1="465.20" y1="882.90" x2="473.60" y2="882.90" stroke="#cba641" stroke-width="1.2"/>
<line x1="474.60" y1="880.60" x2="483.00" y2="880.60" stroke="#cba641" stroke-width="1.2"/>
<line x1="484.00" y1="874.70" x2="492.40" y2="874.70" stroke="#cba641" stroke-width="1.2"/>
<line x1="493.40" y1="882.90" x2="501.80" y2="882.90" stroke="#cba641" stroke-width="1.2"/>
<line x1="502.80" y1="881.70" x2="511.20" y2="881.70" stroke="#cba641" stroke-width="1.2"/>
<line x1="512.20" y1="891.70" x2="520.60" y2="891.70" stroke="#cba641" stroke-width="1.2"/>
<line x1="521.60" y1="891.70" x2="530.00" y2="891.70" stroke="#cba641" stroke-width="1.2"/>
<line x1="531.00" y1="890.80" x2="539.40" y2="890.80" stroke="#cba641" stroke-width="1.2"/>
<line x1="540.40" y1="901.10" x2="548.80" y2="901.10" stroke="#cba641" stroke-width="1.2"/>
<line x1="549.80" y1="903.20" x2="558.20" y2="903.20" stroke="#cba641" stroke-width="1.2"/>
<line x1="559.20" y1="904.30" x2="567.60" y2="904.30" stroke="#cba641" stroke-width="1.2"/>
<line x1="568.60" y1="904.90" x2="577.00" y2="904.90" stroke="#cba641" stroke-width="1.2"/>
<line x1="578.00" y1="904.90" x2="586.40" y2="904.90" stroke="#cba641" stroke-width="1.2"/>
<line x1="587.40" y1="906.00" x2="595.80" y2="906.00" stroke="#cba641" stroke-width="1.2"/>
<line x1="596.80" y1="907.40" x2="605.20" y2="907.40" stroke="#cba641" stroke-width="1.2"/>
<line x1="606.20" y1="907.00" x2="614.60" y2="907.00" stroke="#cba641" stroke-width="1.2"/>
<line x1="625.00" y1="909.20" x2="633.40" y2="909.20" stroke="#cba641" stroke-width="1.2"/>
<line x1="634.40" y1="908.50" x2="642.80" y2="908.50" stroke="#cba641" stroke-width="1.2"/>
<rect x="380.10" y="884.20" width="9.40" height="26.00" fill="none" stroke="#9a9a9a" stroke-width="0.9"/>
<rect x="389.50" y="873.10" width="9.40" height="37.10" fill="none" stroke="#9a9a9a" stroke-width="0.9"/>
<rect x="398.90" y="849.90" width="9.40" height="60.30" fill="none" stroke="#9a9a9a" stroke-width="0.9"/>
<rect x="408.30" y="831.30" width="9.40" height="78.90" fill="none" stroke="#9a9a9a" stroke-width="0.9"/>
<rect x="417.70" y="818.60" width="9.40" height="91.60" fill="none" stroke="#9a9a9a" stroke-width="0.9"/>
<rect x="427.10" y="816.80" width="9.40" height="93.40" fill="none" stroke="#9a9a9a" stroke-width="0.9"/>
<rect x="436.50" y="797.60" width="9.40" height="112.60" fill="none" stroke="#9a9a9a" stroke-width="0.9"/>
<rect x="445.90" y="798.90" width="9.40" height="111.30" fill="none" stroke="#9a9a9a" stroke-width="0.9"/>
<rect x="455.30" y="805.90" width="9.40" height="104.30" fill="none" stroke="#9a9a9a" stroke-width="0.9"/>
<rect x="464.70" y="817.20" width="9.40" height="93.00" fill="none" stroke="#9a9a9a" stroke-width="0.9"/>
<rect x="474.10" y="830.50" width="9.40" height="79.70" fill="none" stroke="#9a9a9a" stroke-width="0.9"/>
<rect x="483.50" y="849.60" width="9.40" height="60.60" fill="none" stroke="#9a9a9a" stroke-width="0.9"/>
<rect x="492.90" y="844.50" width="9.40" height="65.70" fill="none" stroke="#9a9a9a" stroke-width="0.9"/>
<rect x="502.30" y="862.40" width="9.40" height="47.80" fill="none" stroke="#9a9a9a" stroke-width="0.9"/>
<rect x="511.70" y="881.30" width="9.40" height="28.90" fill="none" stroke="#9a9a9a" stroke-width="0.9"/>
<rect x="521.10" y="883.40" width="9.40" height="26.80" fill="none" stroke="#9a9a9a" stroke-width="0.9"/>
<rect x="530.50" y="890.40" width="9.40" height="19.80" fill="none" stroke="#9a9a9a" stroke-width="0.9"/>
<rect x="539.90" y="897.20" width="9.40" height="13.00" fill="none" stroke="#9a9a9a" stroke-width="0.9"/>
<rect x="549.30" y="900.70" width="9.40" height="9.50" fill="none" stroke="#9a9a9a" stroke-width="0.9"/>
<rect x="558.70" y="901.30" width="9.40" height="8.90" fill="none" stroke="#9a9a9a" stroke-width="0.9"/>
<rect x="568.10" y="902.40" width="9.40" height="7.80" fill="none" stroke="#9a9a9a" stroke-width="0.9"/>
<rect x="577.50" y="903.00" width="9.40" height="7.20" fill="none" stroke="#9a9a9a" stroke-width="0.9"/>
<rect x="586.90" y="907.70" width="9.40" height="2.50" fill="none" stroke="#9a9a9a" stroke-width="0.9"/>
<rect x="596.30" y="907.30" width="9.40" height="2.90" fill="none" stroke="#9a9a9a" stroke-width="0.9"/>
<rect x="605.70" y="908.80" width="9.40" height="1.40" fill="none" stroke="#9a9a9a" stroke-width="0.9"/>
<rect x="615.10" y="908.80" width="9.40" height="1.40" fill="none" stroke="#9a9a9a" stroke-width="0.9"/>
<rect x="624.50" y="910.20" width="9.40" height="0.00" fill="none" stroke="#9a9a9a" stroke-width="0.9"/>
<rect x="633.90" y="907.70" width="9.40" height="2.50" fill="none" stroke="#9a9a9a" stroke-width="0.9"/>
<line x1="362" y1="792.8" x2="362" y2="915.9" stroke="#262626" stroke-width="1"/>
<line x1="361.5" y1="915.4" x2="661.1" y2="915.4" stroke="#262626" stroke-width="1"/>
<line x1="359.5" y1="794.8" x2="362" y2="794.8" stroke="#262626" stroke-width="1"/>
<text x="357.8" y="798.24" font-size="8.4" text-anchor="end" fill="#4d4d4d" stroke="#4d4d4d" stroke-width="0.18" >250</text>
<line x1="359.5" y1="818" x2="362" y2="818" stroke="#262626" stroke-width="1"/>
<text x="357.8" y="821.44" font-size="8.4" text-anchor="end" fill="#4d4d4d" stroke="#4d4d4d" stroke-width="0.18" >200</text>
<line x1="359.5" y1="841.2" x2="362" y2="841.2" stroke="#262626" stroke-width="1"/>
<text x="357.8" y="844.64" font-size="8.4" text-anchor="end" fill="#4d4d4d" stroke="#4d4d4d" stroke-width="0.18" >150</text>
<line x1="359.5" y1="864.2" x2="362" y2="864.2" stroke="#262626" stroke-width="1"/>
<text x="357.8" y="867.64" font-size="8.4" text-anchor="end" fill="#4d4d4d" stroke="#4d4d4d" stroke-width="0.18" >100</text>
<line x1="359.5" y1="887.2" x2="362" y2="887.2" stroke="#262626" stroke-width="1"/>
<text x="357.8" y="890.64" font-size="8.4" text-anchor="end" fill="#4d4d4d" stroke="#4d4d4d" stroke-width="0.18" >50</text>
<line x1="359.5" y1="910.4" x2="362" y2="910.4" stroke="#262626" stroke-width="1"/>
<text x="357.8" y="913.84" font-size="8.4" text-anchor="end" fill="#4d4d4d" stroke="#4d4d4d" stroke-width="0.18" >0</text>
<line x1="375.5" y1="915.4" x2="375.5" y2="917.9" stroke="#262626" stroke-width="1"/>
<text x="375.5" y="926.2" font-size="8.4" text-anchor="middle" fill="#4d4d4d" stroke="#4d4d4d" stroke-width="0.18" >0</text>
<line x1="466.4" y1="915.4" x2="466.4" y2="917.9" stroke="#262626" stroke-width="1"/>
<text x="466.4" y="926.2" font-size="8.4" text-anchor="middle" fill="#4d4d4d" stroke="#4d4d4d" stroke-width="0.18" >10</text>
<line x1="557.4" y1="915.4" x2="557.4" y2="917.9" stroke="#262626" stroke-width="1"/>
<text x="557.4" y="926.2" font-size="8.4" text-anchor="middle" fill="#4d4d4d" stroke="#4d4d4d" stroke-width="0.18" >20</text>
<line x1="648.4" y1="915.4" x2="648.4" y2="917.9" stroke="#262626" stroke-width="1"/>
<text x="648.4" y="926.2" font-size="8.4" text-anchor="middle" fill="#4d4d4d" stroke="#4d4d4d" stroke-width="0.18" >30</text>
<text x="511.5" y="936.9" font-size="9.8" text-anchor="middle" fill="#000" stroke="#000" stroke-width="0.18" >Central Venous Pressure (mmHg)</text>
<text x="0" y="0" font-size="9.8" text-anchor="middle" fill="#000" stroke="#000" stroke-width="0.18" transform="translate(339.8,854.2) rotate(-90)">Data availability</text>
</svg></body></html>
